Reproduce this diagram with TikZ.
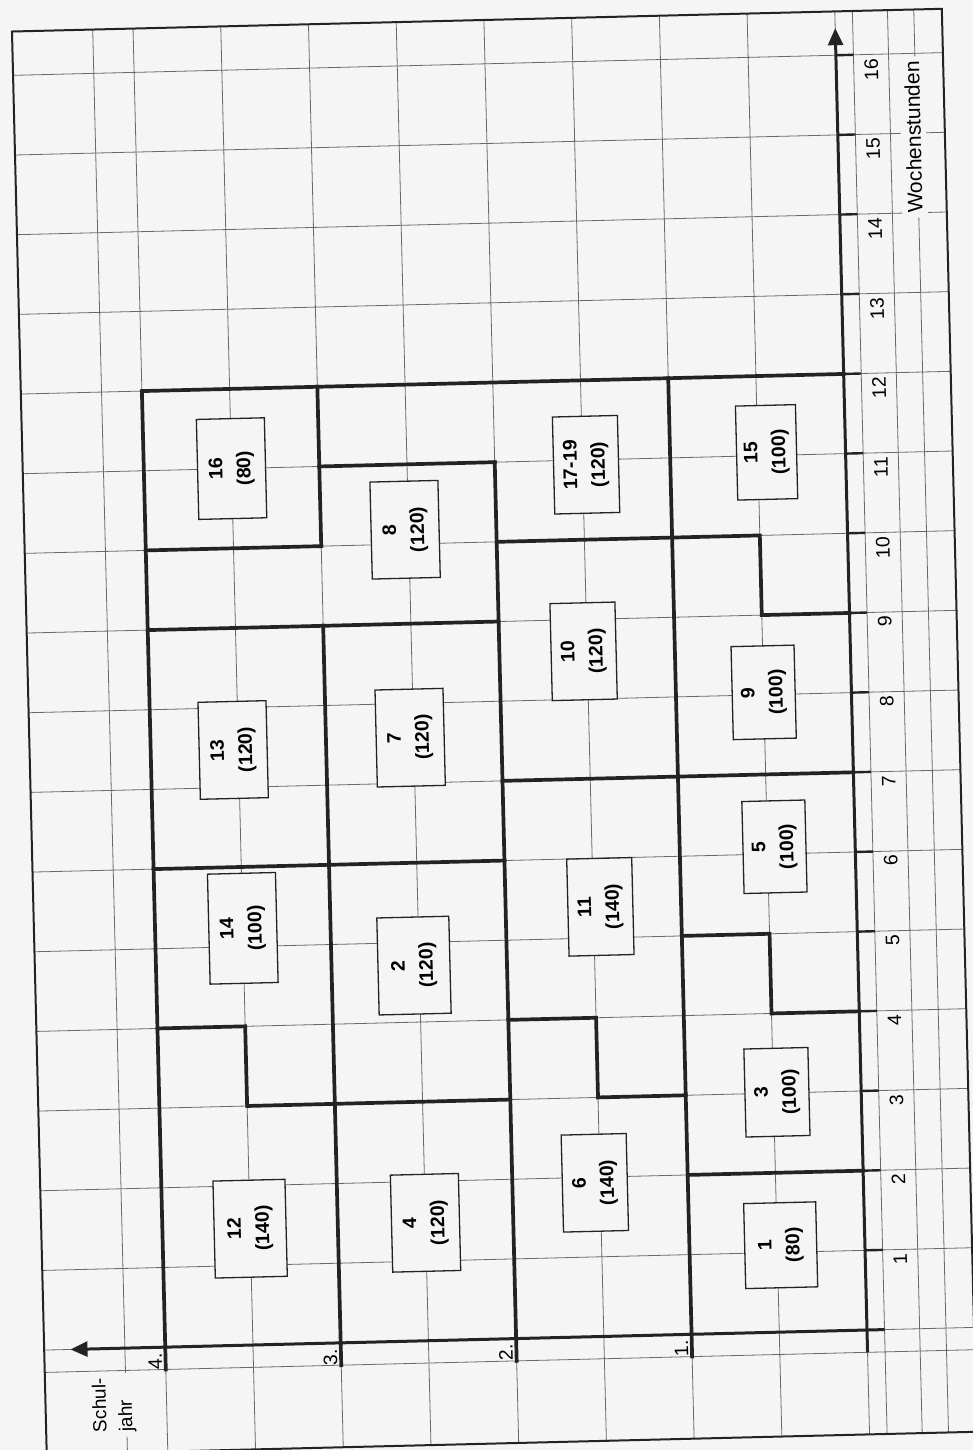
\documentclass[tikz,border=0pt]{standalone}
\usepackage{fontspec}
\setmainfont{Liberation Sans}
\usetikzlibrary{arrows.meta}
\definecolor{bgc}{RGB}{245,245,245}
\definecolor{ink}{RGB}{35,35,35}
\definecolor{gridc}{RGB}{105,105,105}
\begin{document}
\begin{tikzpicture}[
  gridline/.style={draw=gridc, line width=0.8pt},
  blockline/.style={draw=ink, line width=3.7pt, line cap=rect, line join=miter},
  tickline/.style={draw=ink, line width=2.4pt},
  axisline/.style={draw=ink, line width=3pt, -{Triangle[length=17pt,width=15pt]}},
  frameline/.style={draw=ink, line width=2pt},
  modbox/.style={draw=ink, line width=1.3pt, fill=bgc, align=center,
    font=\fontsize{19.5}{28}\selectfont\bfseries,
    minimum width=97pt, minimum height=68pt, inner sep=0pt},
  hlabel/.style={font=\fontsize{19.5}{22}\selectfont, inner sep=0pt, anchor=east},
  ylabel/.style={font=\fontsize{19.5}{22}\selectfont, inner sep=0pt, anchor=south east},
  axtitle/.style={fill=bgc, inner sep=5pt, align=left}
]
\fill[bgc] (0,0) rectangle (973pt,-1450pt);
\useasboundingbox (0,0) rectangle (973pt,-1450pt);
\begin{scope}[shift={(867pt,-1330pt)}, rotate=91.4, x=79.7pt, y=175.5pt, transform shape]
  % grid
  \foreach \h in {-0.28,0,1,2,3,4,5,6,7,8,9,10,11,12,13,14,15,16}
    \draw[gridline] (\h,-0.61) -- (\h,4.69);
  \foreach \y in {-0.45,-0.3,-0.1,0,0.5,1,1.5,2,2.5,3,3.5,4,4.23}
    \draw[gridline] (-1.31,\y) -- (16.55,\y);
  % frame
  \draw[frameline] (-1.31,-0.61) -- (16.55,-0.61) -- (16.55,4.69) -- (-1.31,4.69) -- cycle;
  % block outlines
  \draw[blockline] (0,4) -- (12,4) -- (12,0);
  \draw[blockline] (0,1) -- (12,1);
  \draw[blockline] (0,2) -- (11,2);
  \draw[blockline] (0,3) -- (9,3);
  \draw[blockline] (10,3) -- (12,3);
  % year 1
  \draw[blockline] (2,0) -- (2,1);
  \draw[blockline] (4,0) -- (4,0.5) -- (5,0.5) -- (5,1);
  \draw[blockline] (7,0) -- (7,2);
  \draw[blockline] (9,0) -- (9,0.5) -- (10,0.5) -- (10,2);
  % year 2
  \draw[blockline] (3,1) -- (3,1.5) -- (4,1.5) -- (4,2);
  % years 3 and 4
  \draw[blockline] (3,2) -- (3,3) -- (3,3.5) -- (4,3.5) -- (4,4);
  \draw[blockline] (6,2) -- (6,4);
  \draw[blockline] (9,2) -- (9,4);
  \draw[blockline] (11,2) -- (11,3);
  \draw[blockline] (10,3) -- (10,4);
  % ticks
  \foreach \h in {1,...,16}
    \draw[tickline] (\h,0) -- (\h,-0.1);
  \foreach \y in {1,2,3,4}
    \draw[blockline] (0,\y) -- (-0.28,\y);
  % axes
  \draw[axisline] (-0.28,0) -- (16.34,0);
  \draw[axisline] (0,-0.1) -- (0,4.54);
  % boxes
  \node[modbox, minimum width=85pt, minimum height=72pt] (b1) at (1.09,0.48) {1\\(80)};
  \node[modbox, minimum width=88pt, minimum height=64pt] (b3) at (3.01,0.48) {3\\(100)};
  \node[modbox, minimum width=92pt, minimum height=63pt] (b5) at (6.09,0.46) {5\\(100)};
  \node[modbox, minimum width=93pt, minimum height=63pt] (b9) at (8.03,0.5) {9\\(100)};
  \node[modbox, minimum width=94pt, minimum height=60pt] (b15) at (11.04,0.45) {15\\(100)};
  \node[modbox, minimum height=65pt] (b6) at (1.93,1.53) {6\\(140)};
  \node[modbox, minimum height=65pt] (b11) at (5.39,1.46) {11\\(140)};
  \node[modbox, minimum height=65pt] (b10) at (8.6,1.52) {10\\(120)};
  \node[modbox, minimum height=65pt] (b17) at (10.94,1.48) {17-19\\(120)};
  \node[modbox] (b4) at (1.48,2.5) {4\\(120)};
  \node[modbox, minimum height=72pt] (b2) at (4.71,2.53) {2\\(120)};
  \node[modbox] (b7) at (7.57,2.52) {7\\(120)};
  \node[modbox] (b8) at (10.18,2.52) {8\\(120)};
  \node[modbox, minimum height=72pt] (b12) at (1.46,3.5) {12\\(140)};
  \node[modbox, minimum width=110pt] (b14) at (5.23,3.5) {14\\(100)};
  \node[modbox] (b13) at (7.47,3.53) {13\\(120)};
  \node[modbox, minimum width=100pt] (b16) at (11.0,3.5) {16\\(80)};
  % hour labels
  \foreach \h in {1,...,16}
    \node[hlabel] (t\h) at (\h-0.05,-0.2) {\h};
  % year labels
  \foreach \y in {1,2,3,4}
    \node[ylabel] (yl\y) at (-0.07,\y+0.02) {\y.};
  % axis titles
  \node[axtitle, font=\fontsize{21}{26}\selectfont] (wst) at (14.95,-0.43) {Wochenstunden};
  \node[axtitle, font=\fontsize{19}{26}\selectfont] (sj) at (-0.71,4.3) {Schul-\\jahr};
\end{scope}
\end{tikzpicture}
\end{document}
